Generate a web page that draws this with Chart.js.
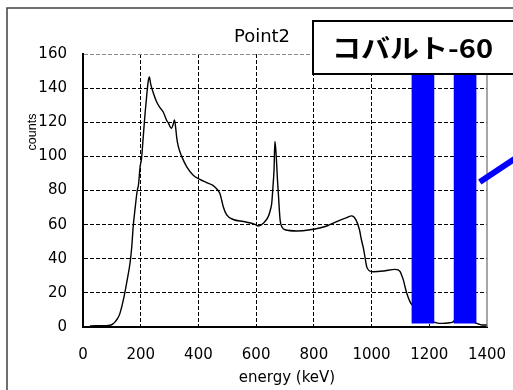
<!DOCTYPE html>
<html>
<head>
<meta charset="utf-8">
<script src="https://cdn.jsdelivr.net/npm/chart.js@4/dist/chart.umd.min.js"></script>
<style>
  html, body { margin: 0; padding: 0; background: #fff; }
  #wrap { width: 513px; height: 390px; }
</style>
</head>
<body>
<div id="wrap"><canvas id="c" width="513" height="390"></canvas></div>
<script>
// Gamma-ray spectrum, measurement point 2
const energy = [
  24, 40, 60, 80, 94, 105, 111, 120, 128, 140, 151, 163, 169, 174, 180, 188,
  192, 198, 203, 209, 215, 221, 226, 230, 235, 244, 255, 265, 278, 290, 296,
  303, 307, 312, 317, 321, 325, 330, 342, 359, 382, 405, 430, 450, 463, 470,
  475, 481, 486, 498, 521, 556, 596, 607, 625, 642, 650, 654, 659, 662, 665,
  668, 671, 674, 677, 683, 690, 700, 741, 787, 845, 879, 914, 931, 946, 958,
  965, 972, 978, 983, 992, 1006, 1041, 1081, 1092, 1099, 1105, 1110, 1116,
  1122, 1133, 1141, 1150, 1165, 1178, 1190, 1205, 1220, 1235, 1255, 1272,
  1283, 1300, 1324, 1345, 1358, 1365, 1375, 1382, 1399
];
const counts = [
  0.6, 0.7, 0.8, 0.8, 1.0, 2, 3, 5, 8, 16, 25.6, 37.5, 47, 59, 68.6, 80,
  83, 94, 99, 112, 125, 136, 144, 146.5, 142, 137, 132, 129, 126, 121, 119.5,
  117, 116.5, 118.5, 121.4, 117, 110.7, 106, 100, 94, 89, 86.5, 84.5, 83, 81, 79.5,
  78, 74, 70.5, 65.7, 63, 61.8, 60.2, 59.2, 60.8, 64.7, 69, 72.5, 84, 92, 108.7,
  104, 96, 86, 78, 62.8, 58.5, 57, 56.3, 57, 59.2, 61.8, 64.1, 65.1, 62.8, 57,
  51, 46, 40, 35.4, 33, 32.4, 32.8, 33.8, 33.5, 32.4, 30, 27.6, 23.5,
  19.8, 14.9, 12.9, 12, 14, 16, 10, 4, 2.7, 2.1, 2.2, 2.5,
  3, 8, 12, 5, 2.5, 2.1, 1.5, 1.2, 1.2
];

// Co-60 photopeak markers (keV) and their vertical extent (counts)
const markerEnergies = [1178, 1324];
const markerLow = 2.3;
const markerHigh = 152;

// Pointer stroke toward the label box, in data units
const pointerFrom = [1375, 85];
const pointerTo = [1495, 98.5];

const xTickValues = [0, 200, 400, 600, 800, 1000, 1200, 1400];
const yTickValues = [0, 20, 40, 60, 80, 100, 120, 140, 160];

const titleText = 'Point2';
const xTitle = 'energy (keV)';
const yTitle = 'counts';
const labelText = 'コバルト-60';

const curve = energy.map((e, i) => ({ x: e, y: counts[i] }));
const markers = markerEnergies.map(e => ({ x: e, y: [markerLow, markerHigh] }));

const decorations = {
  id: 'decorations',
  beforeDraw(chart) {
    const ctx = chart.ctx;
    ctx.save();
    ctx.fillStyle = '#fff';
    ctx.fillRect(0, 0, chart.width, chart.height);
    // outer chart frame
    ctx.strokeStyle = '#404040';
    ctx.lineWidth = 1.5;
    ctx.strokeRect(7, 8, 700, 600);
    // chart title
    ctx.fillStyle = '#000';
    ctx.font = '18px "DejaVu Sans"';
    ctx.textAlign = 'center';
    ctx.textBaseline = 'middle';
    ctx.fillText(titleText, 262, 37);
    // axis titles
    ctx.font = '15px "DejaVu Sans"';
    ctx.fillText(xTitle, 287, 378);
    ctx.save();
    ctx.translate(33, 132);
    ctx.rotate(-Math.PI / 2);
    ctx.font = '12.5px "Liberation Sans"';
    ctx.fillText(yTitle, 0, 0);
    ctx.restore();
    ctx.restore();
  },
  beforeDatasetsDraw(chart) {
    const { ctx, chartArea: a } = chart;
    ctx.save();
    ctx.strokeStyle = '#8a8a8a';
    ctx.lineWidth = 1.5;
    ctx.beginPath();
    ctx.moveTo(a.right, a.top);
    ctx.lineTo(a.right, a.bottom);
    ctx.stroke();
    ctx.restore();
  },
  afterDatasetsDraw(chart) {
    const ctx = chart.ctx;
    const xs = chart.scales.x, ys = chart.scales.y;
    ctx.save();
    // pointer stroke
    ctx.strokeStyle = '#0000ff';
    ctx.lineWidth = 6;
    ctx.beginPath();
    ctx.moveTo(xs.getPixelForValue(pointerFrom[0]), ys.getPixelForValue(pointerFrom[1]));
    ctx.lineTo(xs.getPixelForValue(pointerTo[0]), ys.getPixelForValue(pointerTo[1]));
    ctx.stroke();
    // label box
    ctx.fillStyle = '#fff';
    ctx.strokeStyle = '#000';
    ctx.lineWidth = 2;
    ctx.fillRect(313, 21, 260, 53);
    ctx.strokeRect(313, 21, 260, 53);
    ctx.fillStyle = '#000';
    ctx.font = 'bold 26px "Noto Sans CJK JP"';
    ctx.textAlign = 'left';
    ctx.textBaseline = 'middle';
    const w = ctx.measureText(labelText).width;
    ctx.translate(332, 48);
    ctx.scale(161 / w, 1);
    ctx.fillText(labelText, 0, 0);
    ctx.restore();
  }
};

new Chart(document.getElementById('c'), {
  type: 'line',
  data: {
    datasets: [
      {
        type: 'bar',
        data: markers,
        backgroundColor: '#0000ff',
        borderWidth: 0,
        barThickness: 22,
        grouped: false,
        order: 0
      },
      {
        type: 'line',
        data: curve,
        borderColor: '#000',
        borderWidth: 1.4,
        pointRadius: 0,
        tension: 0.2,
        cubicInterpolationMode: 'monotone',
        fill: false,
        order: 1
      }
    ]
  },
  options: {
    responsive: false,
    devicePixelRatio: 1,
    animation: false,
    layout: { padding: { top: 54, right: 26, bottom: 0, left: 0 } },
    plugins: { legend: { display: false }, tooltip: { enabled: false }, title: { display: false } },
    scales: {
      x: {
        type: 'linear',
        min: 0, max: 1400,
        offset: false,
        afterBuildTicks: s => { s.ticks = xTickValues.map(v => ({ value: v })); },
        afterFit: s => { s.height = 63; s.paddingLeft = 0; s.paddingRight = 0; },
        grid: {
          offset: false,
          drawTicks: false,
          lineWidth: 1,
          color: c => (c.tick && c.tick.value === 1400) ? 'rgba(0,0,0,0)' : '#000'
        },
        border: { display: true, color: '#000', width: 2, dash: [4, 2] },
        ticks: {
          padding: 19,
          color: '#000',
          maxRotation: 0,
          callback: v => String(v),
          font: { family: '"DejaVu Sans"', size: 15 }
        }
      },
      y: {
        type: 'linear',
        min: 0, max: 160,
        afterBuildTicks: s => { s.ticks = yTickValues.map(v => ({ value: v })); },
        afterFit: s => { s.width = 83; s.paddingTop = 0; s.paddingBottom = 0; },
        grid: {
          drawTicks: false,
          lineWidth: 1,
          color: c => (c.tick && c.tick.value === 160) ? '#8a8a8a' : '#000'
        },
        border: { display: true, color: '#000', width: 2, dash: [4, 2] },
        ticks: {
          padding: 16,
          color: '#000',
          callback: v => String(v),
          font: { family: '"DejaVu Sans"', size: 15 }
        }
      }
    }
  },
  plugins: [decorations]
});
</script>
</body>
</html>
